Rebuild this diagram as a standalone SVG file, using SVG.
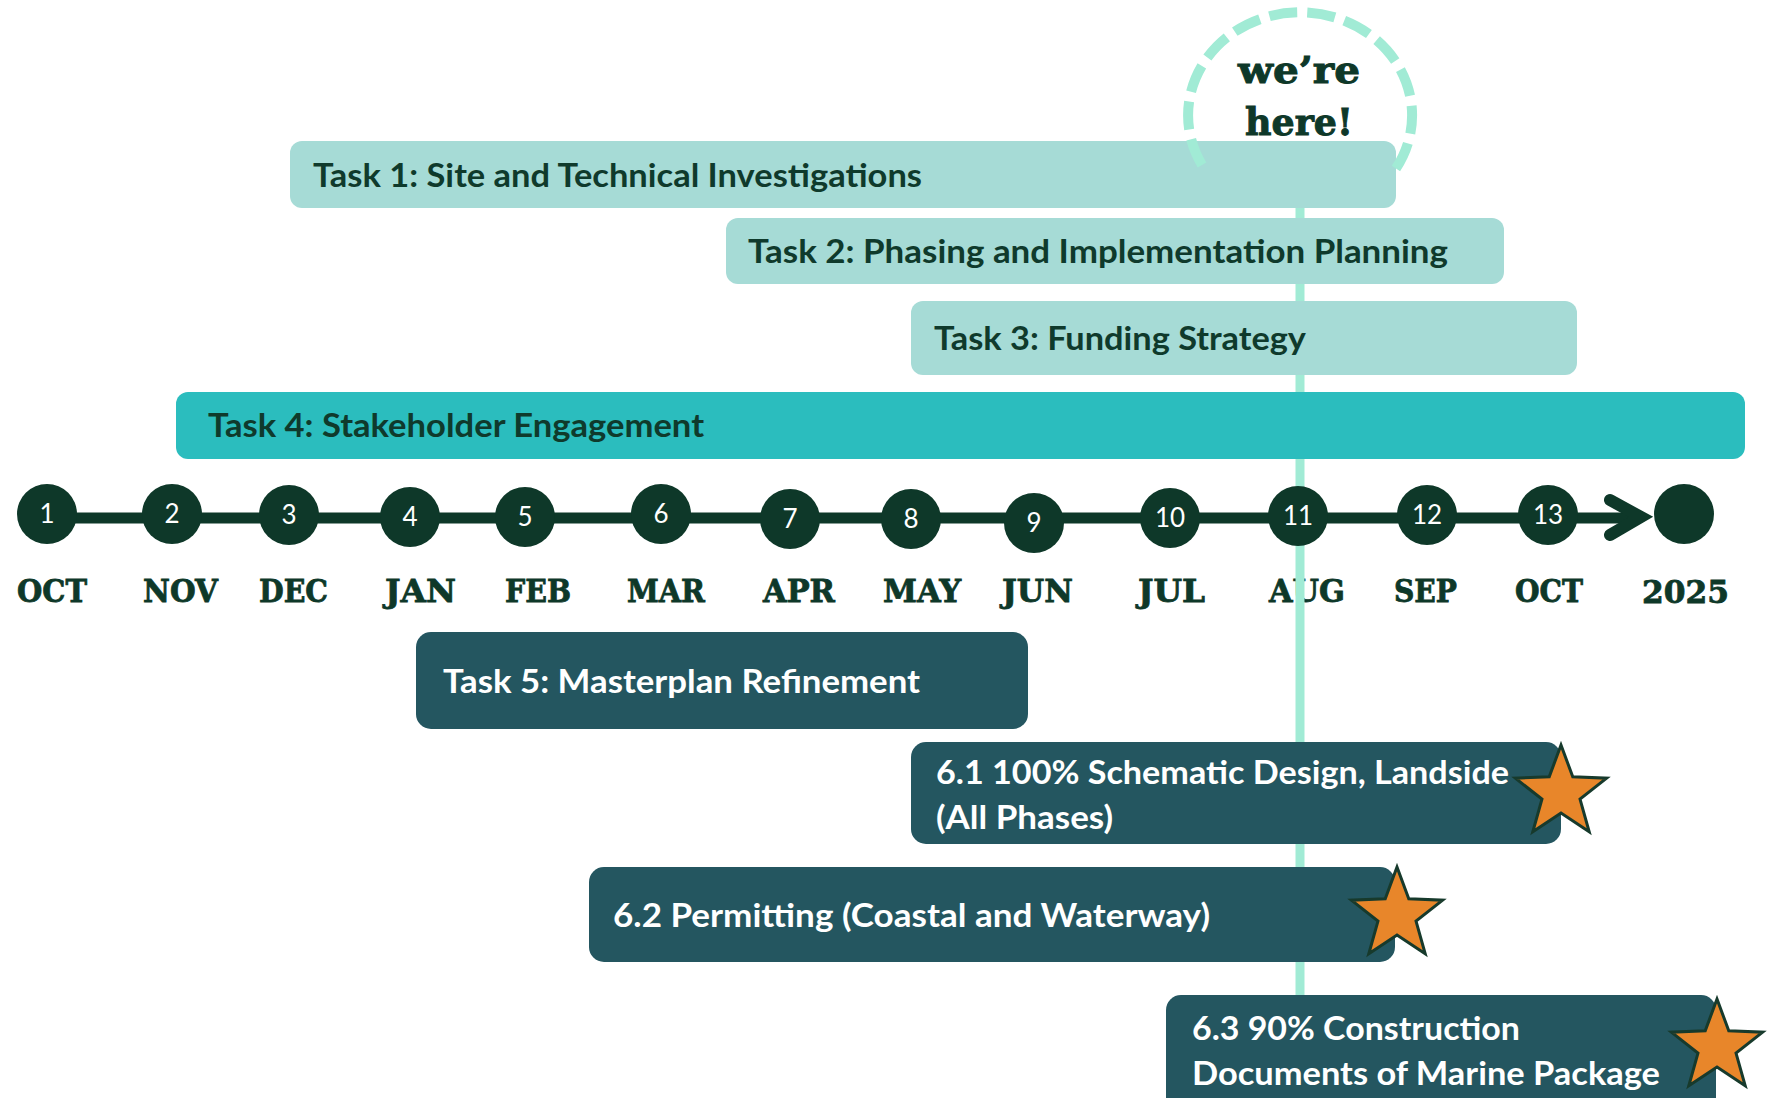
<svg xmlns="http://www.w3.org/2000/svg" xmlns:xlink="http://www.w3.org/1999/xlink" width="1770" height="1098" viewBox="0 0 1770 1098">
<style>
.light{fill:#a6dbd6}
.t4{fill:#2bbdbe}
.dark{fill:#245660}
.lt{font-family:Lato,"Open Sans","Liberation Sans",sans-serif;font-weight:700;font-size:33px;fill:#0f3a2c}
.dt{font-family:Lato,"Open Sans","Liberation Sans",sans-serif;font-weight:700;font-size:33px;fill:#ffffff}
.dot{fill:#0e3829}
.num{font-family:Lato,"Open Sans","Liberation Sans",sans-serif;font-size:26px;fill:#ffffff;text-anchor:middle}
.mon{font-family:"DejaVu Serif","Liberation Serif",serif;font-weight:700;font-size:31px;fill:#0e3829;stroke:#0e3829;stroke-width:0.8;text-anchor:middle}
.here{font-family:"DejaVu Serif","Liberation Serif",serif;font-weight:700;font-size:38px;fill:#0e3829;stroke:#0e3829;stroke-width:1;text-anchor:middle}
.star{fill:#e8862a;stroke:#173a2c;stroke-width:3;stroke-linejoin:miter}
</style>
<defs>
<polygon id="starshape" points="0,-48 11.76,-16.18 45.65,-14.83 19.02,6.18 28.21,38.83 0,20 -28.21,38.83 -19.02,6.18 -45.65,-14.83 -11.76,-16.18"/>
</defs>
<rect width="1770" height="1098" fill="#ffffff"/>

<!-- month labels -->
<g id="months">
<text class="mon" x="52" y="602" textLength="70" lengthAdjust="spacingAndGlyphs">OCT</text>
<text class="mon" x="180.5" y="602" textLength="75" lengthAdjust="spacingAndGlyphs">NOV</text>
<text class="mon" x="293.5" y="602" textLength="69" lengthAdjust="spacingAndGlyphs">DEC</text>
<text class="mon" x="420.5" y="602" textLength="71" lengthAdjust="spacingAndGlyphs">JAN</text>
<text class="mon" x="538" y="602" textLength="66" lengthAdjust="spacingAndGlyphs">FEB</text>
<text class="mon" x="666" y="602" textLength="78" lengthAdjust="spacingAndGlyphs">MAR</text>
<text class="mon" x="799" y="602" textLength="72" lengthAdjust="spacingAndGlyphs">APR</text>
<text class="mon" x="922" y="602" textLength="78" lengthAdjust="spacingAndGlyphs">MAY</text>
<text class="mon" x="1037.5" y="602" textLength="71" lengthAdjust="spacingAndGlyphs">JUN</text>
<text class="mon" x="1171.5" y="602" textLength="67" lengthAdjust="spacingAndGlyphs">JUL</text>
<text class="mon" x="1307" y="602" textLength="76" lengthAdjust="spacingAndGlyphs">AUG</text>
<text class="mon" x="1425.5" y="602" textLength="63" lengthAdjust="spacingAndGlyphs">SEP</text>
<text class="mon" x="1549" y="602" textLength="68" lengthAdjust="spacingAndGlyphs">OCT</text>
<text class="mon" x="1685.5" y="603" textLength="87" lengthAdjust="spacingAndGlyphs">2025</text>
</g>

<!-- connectors: current-date marker line and timeline -->
<g id="connectors">
<line x1="1300" y1="200" x2="1300" y2="1000" stroke="#a1ebd5" stroke-width="9"/>
<line x1="47" y1="518" x2="1640" y2="518" stroke="#0e3829" stroke-width="11"/>
<polyline points="1610,500 1641,517 1610,535" fill="none" stroke="#0e3829" stroke-width="12" stroke-linecap="round" stroke-linejoin="miter"/>
</g>

<!-- light task bars -->
<g id="task1"><rect class="light" x="290" y="141" width="1106" height="67" rx="12"/><text class="lt" x="313" y="187" textLength="609" lengthAdjust="spacingAndGlyphs">Task 1: Site and Technical Investigations</text></g>
<g id="task2"><rect class="light" x="726" y="218" width="778" height="66" rx="12"/><text class="lt" x="748" y="263" textLength="700" lengthAdjust="spacingAndGlyphs">Task 2: Phasing and Implementation Planning</text></g>
<g id="task3"><rect class="light" x="911" y="301" width="666" height="74" rx="12"/><text class="lt" x="934" y="350" textLength="372" lengthAdjust="spacingAndGlyphs">Task 3: Funding Strategy</text></g>
<g id="task4"><rect class="t4" x="176" y="392" width="1569" height="67" rx="12"/><text class="lt" x="208" y="437" textLength="496" lengthAdjust="spacingAndGlyphs">Task 4: Stakeholder Engagement</text></g>

<!-- we're here marker -->
<g id="we-are-here">
<path d="M 1202 165 A 112 103 0 1 1 1395 170" fill="none" stroke="#a1ebd5" stroke-width="10" stroke-dasharray="28 10"/>
<text class="here" x="1299" y="83" textLength="122" lengthAdjust="spacingAndGlyphs">we’re</text>
<text class="here" x="1299" y="135" textLength="108" lengthAdjust="spacingAndGlyphs">here!</text>
</g>

<!-- timeline dots -->
<g id="m1"><circle class="dot" cx="47" cy="514" r="30"/><text class="num" x="47" y="523">1</text></g>
<g id="m2"><circle class="dot" cx="172" cy="514" r="30"/><text class="num" x="172" y="523">2</text></g>
<g id="m3"><circle class="dot" cx="289" cy="515" r="30"/><text class="num" x="289" y="524">3</text></g>
<g id="m4"><circle class="dot" cx="410" cy="517" r="30"/><text class="num" x="410" y="526">4</text></g>
<g id="m5"><circle class="dot" cx="525" cy="517" r="30"/><text class="num" x="525" y="526">5</text></g>
<g id="m6"><circle class="dot" cx="661" cy="514" r="30"/><text class="num" x="661" y="523">6</text></g>
<g id="m7"><circle class="dot" cx="790" cy="519" r="30"/><text class="num" x="790" y="528">7</text></g>
<g id="m8"><circle class="dot" cx="911" cy="519" r="30"/><text class="num" x="911" y="528">8</text></g>
<g id="m9"><circle class="dot" cx="1034" cy="523" r="30"/><text class="num" x="1034" y="532">9</text></g>
<g id="m10"><circle class="dot" cx="1170" cy="518" r="30"/><text class="num" x="1170" y="527">10</text></g>
<g id="m11"><circle class="dot" cx="1298" cy="516" r="30"/><text class="num" x="1298" y="525">11</text></g>
<g id="m12"><circle class="dot" cx="1427" cy="515" r="30"/><text class="num" x="1427" y="524">12</text></g>
<g id="m13"><circle class="dot" cx="1548" cy="515" r="30"/><text class="num" x="1548" y="524">13</text></g>
<g id="m-end"><circle class="dot" cx="1684" cy="514" r="30"/></g>

<!-- dark task boxes -->
<g id="task5"><rect class="dark" x="416" y="632" width="612" height="97" rx="15"/><text class="dt" x="443" y="693" textLength="477" lengthAdjust="spacingAndGlyphs">Task 5: Masterplan Refinement</text></g>
<g id="task6-1"><rect class="dark" x="911" y="742" width="650" height="102" rx="15"/><text class="dt" x="936" y="784" textLength="573" lengthAdjust="spacingAndGlyphs">6.1 100% Schematic Design, Landside</text><text class="dt" x="936" y="829" textLength="177" lengthAdjust="spacingAndGlyphs">(All Phases)</text><use xlink:href="#starshape" class="star" x="1561" y="793"/></g>
<g id="task6-2"><rect class="dark" x="589" y="867" width="806" height="95" rx="15"/><text class="dt" x="613" y="927" textLength="597" lengthAdjust="spacingAndGlyphs">6.2 Permitting (Coastal and Waterway)</text><use xlink:href="#starshape" class="star" x="1397" y="915"/></g>
<g id="task6-3"><rect class="dark" x="1166" y="995" width="550" height="130" rx="15"/><text class="dt" x="1192" y="1040" textLength="328" lengthAdjust="spacingAndGlyphs">6.3 90% Construction</text><text class="dt" x="1192" y="1085" textLength="468" lengthAdjust="spacingAndGlyphs">Documents of Marine Package</text><use xlink:href="#starshape" class="star" x="1717" y="1047"/></g>
</svg>
